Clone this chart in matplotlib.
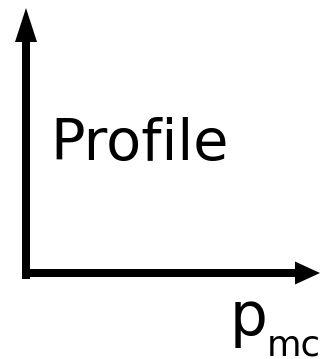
import matplotlib
matplotlib.use('Agg')
import matplotlib.pyplot as plt

# axis labels of the sketch
ylabel_text = 'Profile'
xlabel_main = 'p'
xlabel_sub = 'mc'

W, H = 320, 359
fig = plt.figure(figsize=(W/100, H/100), dpi=100)
ax = fig.add_axes([0, 0, 1, 1])
ax.set_xlim(0, W)
ax.set_ylim(H, 0)
ax.axis('off')

# vertical axis arrow
ax.arrow(26, 279, 0, -271, width=8, head_width=22, head_length=34,
         length_includes_head=True, color='black', lw=0)
# horizontal axis arrow
ax.arrow(22, 273, 298, 0, width=8, head_width=23, head_length=25,
         length_includes_head=True, color='black', lw=0)

ax.text(50.5, 160, ylabel_text, fontsize=41.3, ha='left', va='baseline',
        family='DejaVu Sans')
ax.text(229.5, 335, xlabel_main, fontsize=43, ha='left', va='baseline',
        family='DejaVu Sans')
ax.text(267, 355, xlabel_sub, fontsize=25.5, ha='left', va='baseline',
        family='DejaVu Sans')

fig.savefig('out.png', dpi=100)
